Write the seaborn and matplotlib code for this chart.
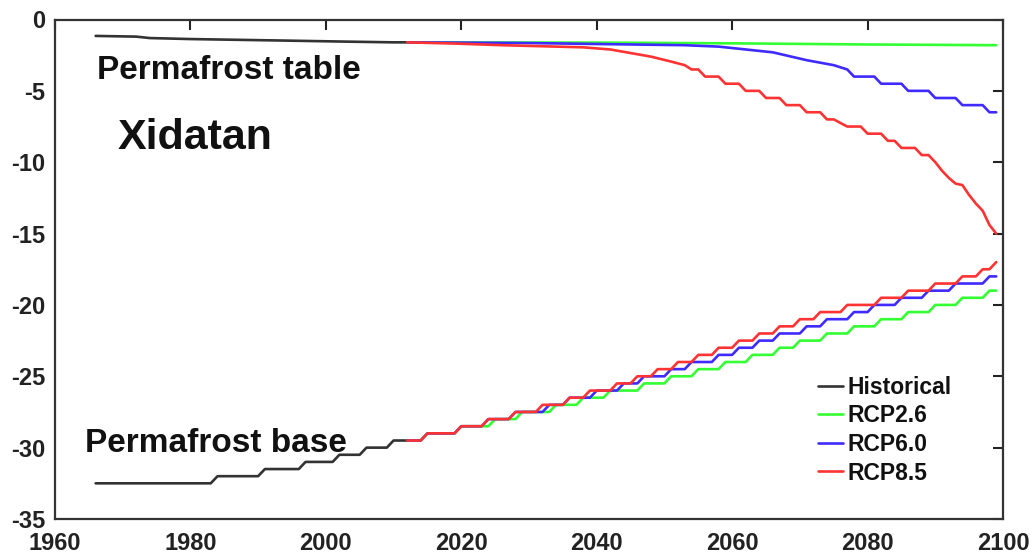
import numpy as np
import pandas as pd
import matplotlib
matplotlib.use("Agg")
import matplotlib.pyplot as plt
from matplotlib.lines import Line2D
from matplotlib import font_manager
import seaborn as sns

# ---------------- data ----------------
# Permafrost table (upper boundary), depth in m
hist_table_years = [1966, 1972, 1974, 1980, 1993, 2003, 2010, 2012]
hist_table_depth = [-1.15, -1.2, -1.3, -1.37, -1.47, -1.55, -1.6, -1.6]

rcp26_table_years = [2012, 2040, 2060, 2080, 2099]
rcp26_table_depth = [-1.6, -1.62, -1.67, -1.75, -1.8]

rcp60_table_years = [2012, 2030, 2045, 2053, 2058, 2062, 2066, 2071, 2075, 2077, 2078,
                     2081, 2082, 2085, 2086, 2089, 2090, 2093, 2094, 2097, 2098, 2099]
rcp60_table_depth = [-1.6, -1.65, -1.75, -1.8, -1.9, -2.1, -2.3, -2.85, -3.2, -3.5, -4.0,
                     -4.0, -4.5, -4.5, -5.0, -5.0, -5.5, -5.5, -6.0, -6.0, -6.5, -6.5]

rcp85_table_years = [2012, 2020, 2026, 2034, 2038, 2042, 2045, 2048, 2051, 2053, 2054, 2055,
                     2056, 2058, 2059, 2061, 2062, 2064, 2065, 2067, 2068, 2070, 2071, 2073,
                     2074, 2075, 2077, 2079, 2080, 2082, 2083, 2084, 2085, 2087, 2088, 2089,
                     2090, 2091, 2092, 2093, 2094, 2095, 2096, 2097, 2098, 2099]
rcp85_table_depth = [-1.6, -1.7, -1.8, -1.9, -1.95, -2.1, -2.35, -2.6, -2.95, -3.2, -3.5, -3.5,
                     -4.0, -4.0, -4.5, -4.5, -5.0, -5.0, -5.5, -5.5, -6.0, -6.0, -6.5, -6.5,
                     -7.0, -7.0, -7.5, -7.5, -8.0, -8.0, -8.5, -8.5, -9.0, -9.0, -9.5, -9.5,
                     -10.0, -10.6, -11.1, -11.5, -11.6, -12.3, -12.9, -13.4, -14.4, -15.0]

# Permafrost base (lower boundary): first year at which each level is reached
hist_base_steps = [1966, 1984, 1991, 1997, 2002, 2006, 2010]
hist_base_levels = [-32.5, -32.0, -31.5, -31.0, -30.5, -30.0, -29.5]
hist_base_end = 2012

rcp26_base_steps = [2012, 2015, 2020, 2025, 2029, 2034, 2038, 2042, 2047, 2051, 2055, 2059,
                    2063, 2067, 2070, 2074, 2078, 2082, 2086, 2090, 2094, 2098]
rcp26_base_levels = [-29.5, -29.0, -28.5, -28.0, -27.5, -27.0, -26.5, -26.0, -25.5, -25.0,
                     -24.5, -24.0, -23.5, -23.0, -22.5, -22.0, -21.5, -21.0, -20.5, -20.0,
                     -19.5, -19.0]

rcp60_base_steps = [2012, 2015, 2020, 2024, 2028, 2033, 2036, 2040, 2044, 2047, 2051, 2054,
                    2058, 2061, 2064, 2067, 2071, 2074, 2078, 2081, 2085, 2089, 2093, 2098]
rcp60_base_levels = [-29.5, -29.0, -28.5, -28.0, -27.5, -27.0, -26.5, -26.0, -25.5, -25.0,
                     -24.5, -24.0, -23.5, -23.0, -22.5, -22.0, -21.5, -21.0, -20.5, -20.0,
                     -19.5, -19.0, -18.5, -18.0]

rcp85_base_steps = [2012, 2015, 2020, 2024, 2028, 2032, 2036, 2039, 2043, 2046, 2049, 2052,
                    2055, 2058, 2061, 2064, 2067, 2070, 2073, 2077, 2082, 2086, 2090, 2094,
                    2097, 2099]
rcp85_base_levels = [-29.5, -29.0, -28.5, -28.0, -27.5, -27.0, -26.5, -26.0, -25.5, -25.0,
                     -24.5, -24.0, -23.5, -23.0, -22.5, -22.0, -21.5, -21.0, -20.5, -20.0,
                     -19.5, -19.0, -18.5, -18.0, -17.5, -17.0]
future_end = 2099

scenarios = ["Historical", "RCP2.6", "RCP6.0", "RCP8.5"]
colors = ["#333333", "#33ff33", "#3f2bff", "#ff3333"]


def annual_steps(first_years, levels, end_year):
    """Annual series: each level holds from its first year until the next level starts."""
    yrs, vals = [], []
    for i, (y0, lv) in enumerate(zip(first_years, levels)):
        y1 = first_years[i + 1] - 1 if i + 1 < len(first_years) else end_year
        yrs += [y0] if y1 == y0 else [y0, y1]
        vals += [lv] if y1 == y0 else [lv, lv]
    return yrs, vals


rows = []
def add(years, depth, scen, part):
    for y, d in zip(years, depth):
        rows.append({"year": y, "depth": d, "scenario": scen, "part": part})

add(hist_table_years, hist_table_depth, "Historical", "table")
add(*annual_steps(hist_base_steps, hist_base_levels, hist_base_end), "Historical", "base")
add(rcp26_table_years, rcp26_table_depth, "RCP2.6", "table")
add(*annual_steps(rcp26_base_steps, rcp26_base_levels, future_end), "RCP2.6", "base")
add(rcp60_table_years, rcp60_table_depth, "RCP6.0", "table")
add(*annual_steps(rcp60_base_steps, rcp60_base_levels, future_end), "RCP6.0", "base")
add(rcp85_table_years, rcp85_table_depth, "RCP8.5", "table")
add(*annual_steps(rcp85_base_steps, rcp85_base_levels, future_end), "RCP8.5", "base")
df = pd.DataFrame(rows)

# ---------------- figure ----------------
sns.set_style("white")
plt.rcParams["font.family"] = ["Liberation Sans", "DejaVu Sans"]
plt.rcParams["font.weight"] = "bold"
plt.rcParams["axes.unicode_minus"] = False

installed = {f.name for f in font_manager.fontManager.ttflist}
tick_family = ["Liberation Sans Narrow"] if "Liberation Sans Narrow" in installed else ["Liberation Sans"]
tick_size = 19 if "Liberation Sans Narrow" in installed else 17

fig = plt.figure(figsize=(10.35, 5.56), dpi=100)
ax = fig.add_axes([55 / 1035, 1 - 519 / 556, (1003 - 55) / 1035, (519 - 19.5) / 556])

palette = dict(zip(scenarios, colors))
sns.lineplot(data=df, x="year", y="depth", hue="scenario", units="part",
             estimator=None, sort=False, hue_order=scenarios, palette=palette,
             linewidth=1.9, legend=False, ax=ax)

ax.set_xlim(1960, 2100)
ax.set_ylim(-35, 0)
ax.set_xticks(np.arange(1960, 2101, 20))
ax.set_yticks(np.arange(-35, 1, 5))
ax.set_xlabel("")
ax.set_ylabel("")
ax.tick_params(direction="in", top=True, right=True, length=7, width=1.5,
               labelsize=tick_size, colors="#222222")
ax.tick_params(axis="x", pad=9)
ax.tick_params(axis="y", pad=7)
for lab in ax.get_xticklabels() + ax.get_yticklabels():
    lab.set_fontweight("bold")
    lab.set_family(tick_family)
for sp in ax.spines.values():
    sp.set_linewidth(1.6)
    sp.set_color("#333333")

ax.text(1966.2, -4.2, "Permafrost table", fontsize=24, fontweight="bold",
        va="baseline", ha="left", color="#111111")
ax.text(1969.3, -9.1, "Xidatan", fontsize=31, fontweight="bold",
        va="baseline", ha="left", color="#111111")
ax.text(1964.4, -30.3, "Permafrost base", fontsize=24, fontweight="bold",
        va="baseline", ha="left", color="#111111")

handles = [Line2D([], [], color=c, linewidth=1.9) for c in colors]
leg = ax.legend(handles, scenarios, loc="upper left",
                bbox_to_anchor=(818 / 1035, 1 - 376 / 556), bbox_transform=fig.transFigure,
                frameon=False, fontsize=16.5, handlelength=1.1, handletextpad=0.2,
                labelspacing=0.24, borderpad=0, borderaxespad=0)
for t in leg.get_texts():
    t.set_fontweight("bold")
    t.set_color("#111111")

fig.savefig("out.png", dpi=100)
